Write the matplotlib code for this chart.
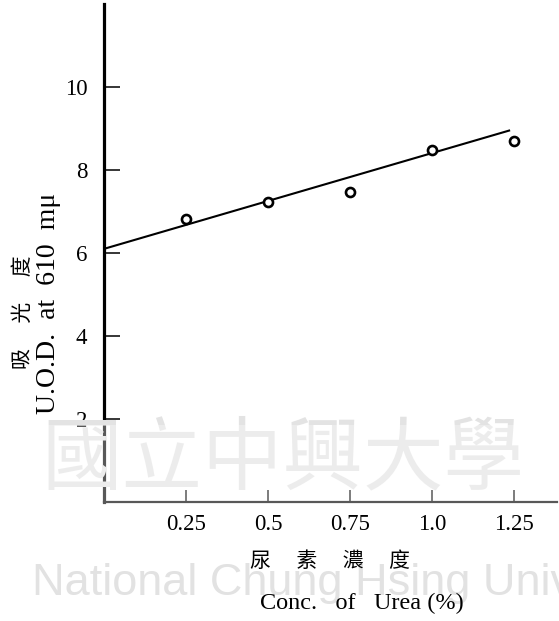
import matplotlib
matplotlib.use("Agg")
import matplotlib.pyplot as plt
from matplotlib.patches import Rectangle

# datos
conc = [0.25, 0.5, 0.75, 1.0, 1.25]
od = [6.83, 7.23, 7.47, 8.48, 8.71]
recta_x = [0.0, 1.235]
recta_y = [6.1, 8.95]
xticks = [0.25, 0.5, 0.75, 1.0, 1.25]
xtick_labels = ["0.25", "0.5", "0.75", "1.0", "1.25"]
yticks = [2, 4, 6, 8, 10]
ytick_labels = ["2", "4", "6", "8", "10"]

W, H = 559, 621
serif = ["Liberation Serif", "DejaVu Serif"]
cjk = ["Noto Sans CJK TC", "DejaVu Sans"]

def fx(px):
    return px / W

def fy(py):
    return 1 - py / H

fig = plt.figure(figsize=(W / 100, H / 100), dpi=100)
ax = fig.add_axes([fx(104), fy(502), fx(557) - fx(104), fy(4) - fy(502)])

ax.plot(recta_x, recta_y, color="black", linewidth=1.5, zorder=2)
ax.plot(conc, od, linestyle="none", marker="o", markersize=6.5,
        markerfacecolor="white", markeredgecolor="black",
        markeredgewidth=1.9, zorder=3)

ax.set_xlim(0, 1.381)
ax.set_ylim(0, 12)

for s in ["top", "right"]:
    ax.spines[s].set_visible(False)
ax.spines["left"].set_linewidth(2.3)
ax.spines["bottom"].set_linewidth(1.6)

ax.set_xticks(xticks)
ax.set_xticklabels(xtick_labels, family=serif, fontsize=16.5)
ax.set_yticks(yticks)
ax.set_yticklabels(ytick_labels, family=serif, fontsize=16.5)
ax.tick_params(axis="y", direction="in", length=11.5, width=1.1, pad=12)
ax.tick_params(axis="x", direction="in", length=8.5, width=1.1, pad=9)

# rótulos
fig.text(fx(330), fy(561), "尿\u3000 素\u3000 濃\u3000 度", family=cjk,
         fontsize=15, ha="center", va="center")
fig.text(fx(362), fy(603), "Conc.   of   Urea (%)", family=serif,
         fontsize=17.5, ha="center", va="center")
fig.text(fx(23), fy(312), "吸\u3000 光\u3000 度", family=cjk,
         fontsize=15, ha="center", va="center", rotation=90)
fig.text(fx(49), fy(303), "U.O.D.  at  610  m\u03bc", family=serif,
         fontsize=20, ha="center", va="center", rotation=90)

# marca de agua del escaneo
fig.patches.append(Rectangle((0, fy(510)), 1, fy(425) - fy(510),
                             transform=fig.transFigure, facecolor="white",
                             alpha=0.35, edgecolor="none", zorder=5))
fig.text(fx(283), fy(460), "國立中興大學", family=cjk, fontsize=58,
         color="#e3e3e3", ha="center", va="center", zorder=0)
fig.text(fx(32), fy(584), "National Chung Hsing University", family=["Liberation Sans"],
         fontsize=32.5, color="#e2e2e2", ha="left", va="center", zorder=0)

fig.savefig("out.png", dpi=100)
plt.close("all")
